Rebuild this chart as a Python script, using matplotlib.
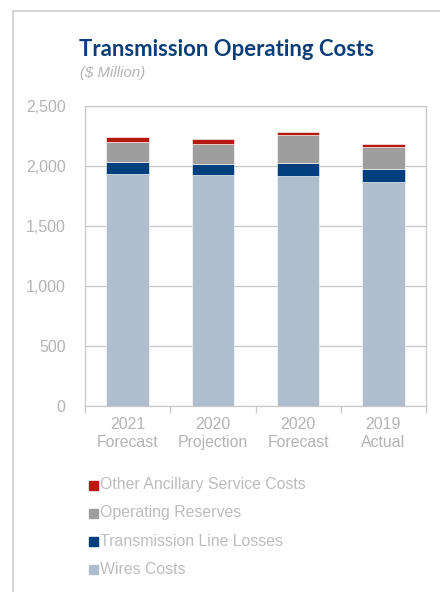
import matplotlib
matplotlib.use("Agg")
import matplotlib.pyplot as plt
from matplotlib.lines import Line2D
from matplotlib.patches import Rectangle

categories = ["2021\nForecast", "2020\nProjection", "2020\nForecast", "2019\nActual"]
wires = [1935, 1922, 1914, 1867]
losses = [100, 97, 114, 106]
reserves = [167, 167, 231, 186]
other = [40, 39, 28, 25]

series = [
    ("Wires Costs", wires, "#AEBECC"),
    ("Transmission Line Losses", losses, "#003F7D"),
    ("Operating Reserves", reserves, "#9E9E9E"),
    ("Other Ancillary Service Costs", other, "#B51A10"),
]

W, H, DPI = 440, 592, 100
fig = plt.figure(figsize=(W / DPI, H / DPI), dpi=DPI)
fig.patch.set_facecolor("white")

def fx(px):
    return px / W

def fy(py):
    return 1 - py / H

ax = fig.add_axes([fx(85), fy(406), fx(426) - fx(85), fy(106) - fy(406)])

x = list(range(len(categories)))
bottom = [0] * len(categories)
for name, vals, col in series:
    ax.bar(x, vals, width=0.5, bottom=bottom, color=col, label=name, zorder=3,
           edgecolor="white", linewidth=0.4)
    bottom = [b + v for b, v in zip(bottom, vals)]

ax.set_xlim(-0.5, len(categories) - 0.5)
ax.set_ylim(0, 2500)
ax.set_yticks([0, 500, 1000, 1500, 2000, 2500])
ax.set_yticklabels(["0", "500", "1,000", "1,500", "2,000", "2,500"])
ax.yaxis.grid(True, color="#C8C8C8", linewidth=0.9, zorder=0)
for s in ax.spines.values():
    s.set_color("#C8C8C8")
    s.set_linewidth(0.9)

tick_color = "#B4B4B4"
ax.tick_params(axis="y", length=0, pad=14, labelsize=11.5, labelcolor=tick_color)
ax.set_xticks(x)
ax.set_xticklabels(categories, fontsize=11.4, color=tick_color, linespacing=1.2)
ax.tick_params(axis="x", length=0, pad=8)
ax.set_xticks([i - 0.5 for i in range(len(categories) + 1)], minor=True)
ax.tick_params(axis="x", which="minor", length=5, color="#C8C8C8", width=0.9)
for lab in ax.get_xticklabels() + ax.get_yticklabels():
    lab.set_family(["Liberation Sans", "DejaVu Sans"])

# Title & subtitle
fig.text(fx(79), fy(49), "Transmission Operating Costs", fontsize=15.9,
         fontweight="bold", color="#0B3E78", family=["Lato", "DejaVu Sans"], va="center")
fig.text(fx(80), fy(73), "($ Million)", fontsize=10.8, style="italic",
         color="#B4B4B4", family=["Liberation Sans", "DejaVu Sans"], va="center")

# Legend (reverse order, manual)
leg_y = [485, 513, 541, 569]
for (name, vals, col), yy in zip(reversed(series), leg_y):
    fig.add_artist(Rectangle((fx(89), fy(yy + 4.5)), fx(9), fy(0) - fy(9),
                             transform=fig.transFigure, color=col))
    fig.text(fx(100), fy(yy), name, fontsize=11.4, color="#BDBDBD",
             family=["Liberation Sans", "DejaVu Sans"], va="center")

# Outer frame
fig.add_artist(Line2D([fx(13), 1], [fy(11), fy(11)], color="#D0D0D0", linewidth=1.2,
                      transform=fig.transFigure))
fig.add_artist(Line2D([fx(13), fx(13)], [fy(11), 0], color="#D0D0D0", linewidth=1.2,
                      transform=fig.transFigure))

fig.savefig("out.png", dpi=DPI)
